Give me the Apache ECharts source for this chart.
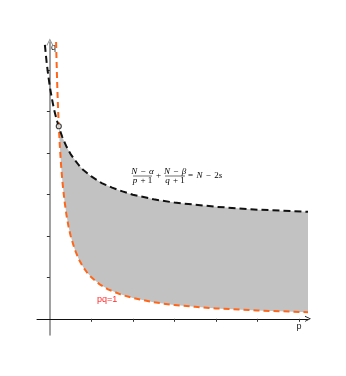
<!DOCTYPE html>
<html>
<head>
<meta charset="utf-8">
<script src="https://cdn.jsdelivr.net/npm/echarts@6/dist/echarts.min.js"></script>
<style>
  html, body { margin: 0; padding: 0; background: #fff; }
  #chart { width: 346px; height: 376px; }
</style>
</head>
<body>
<div id="chart"></div>
<script>
// ticks on both axes (no labels)
var tickValues = [1, 2, 3, 4, 5, 6];

// (N-a)/(p+1) + (N-b)/(q+1) = N-2s
var blackCurve = [
    [-0.12, 6.60], [-0.08, 6.20], [-0.04, 5.87], [0, 5.59], [0.05, 5.30],
    [0.1, 5.05], [0.15, 4.85], [0.215, 4.62], [0.3, 4.38], [0.4, 4.15],
    [0.5, 3.97], [0.6, 3.83], [0.7, 3.70], [0.8, 3.59], [1.0, 3.43],
    [1.25, 3.27], [1.5, 3.16], [1.75, 3.07], [2, 2.99], [2.5, 2.88],
    [3, 2.80], [3.5, 2.75], [4, 2.70], [5, 2.63], [6.22, 2.58]
];

// pq = 1
var orangeCurve = [
    [0.15, 6.67], [0.16, 6.25], [0.18, 5.56], [0.2, 5.0], [0.215, 4.65],
    [0.24, 4.17], [0.27, 3.70], [0.3, 3.33], [0.35, 2.86], [0.4, 2.5],
    [0.45, 2.22], [0.5, 2.0], [0.6, 1.67], [0.7, 1.43], [0.8, 1.25],
    [0.9, 1.11], [1, 1.0], [1.2, 0.83], [1.4, 0.71], [1.7, 0.59],
    [2, 0.5], [2.5, 0.4], [3, 0.33], [3.5, 0.29], [4, 0.25],
    [5, 0.2], [6.22, 0.16]
];

// where the two curves meet
var meetPoint = [[0.215, 4.64]];

var chart = echarts.init(document.getElementById('chart'));

var richStyles = {
    i: { fontFamily: 'Liberation Serif', fontStyle: 'italic', fontSize: 9, color: '#111' },
    r: { fontFamily: 'Liberation Serif', fontSize: 9, color: '#111' }
};

function richText(str, x, y, align) {
    return {
        type: 'text', x: x, y: y,
        style: { text: str, rich: richStyles, align: align || 'center', verticalAlign: 'middle' }
    };
}

var option = {
    animation: false,
    grid: { left: 37, right: 38, top: 42, bottom: 41 },
    xAxis: {
        type: 'value',
        min: -0.31, max: 6.22,
        axisLine: {
            onZero: true,
            symbol: ['none', 'path://M0,10 L5,0 L10,10 L8.6,10 L5,2.6 L1.4,10 Z'],
            symbolSize: [6, 6],
            lineStyle: { color: '#111', width: 1 }
        },
        axisTick: { show: true, customValues: tickValues, length: 3, lineStyle: { color: '#333' } },
        axisLabel: { show: false },
        splitLine: { show: false }
    },
    yAxis: {
        type: 'value',
        min: -0.39, max: 6.67,
        axisLine: {
            onZero: true,
            symbol: ['none', 'path://M0,10 L5,0 L10,10 L8.6,10 L5,2.6 L1.4,10 Z'],
            symbolSize: [7, 7],
            lineStyle: { color: '#8a8a8a', width: 1.6 }
        },
        axisTick: { show: true, customValues: tickValues, length: 3, lineStyle: { color: '#333' } },
        axisLabel: { show: false },
        splitLine: { show: false }
    },
    graphic: [
        { type: 'text', x: 51, y: 48, style: { text: 'q', font: '9px "Liberation Sans"', fill: '#222', verticalAlign: 'middle' } },
        { type: 'text', x: 299, y: 327, style: { text: 'p', font: '9px "Liberation Sans"', fill: '#222', align: 'center', verticalAlign: 'middle' } },
        { type: 'text', x: 97, y: 300, style: { text: 'pq=1', font: '9px "Liberation Sans"', fill: '#ff2a2a', verticalAlign: 'middle' } },
        richText('{i|N} {r|−} {i|α}', 142.5, 171.5),
        { type: 'line', shape: { x1: 133, y1: 176, x2: 152, y2: 176 }, style: { stroke: '#111', lineWidth: 0.6 } },
        richText('{i|p} {r|+ 1}', 142.5, 180.5),
        richText('{r|+}', 158.5, 176),
        richText('{i|N} {r|−} {i|β}', 175, 171.5),
        { type: 'line', shape: { x1: 165, y1: 176, x2: 185, y2: 176 }, style: { stroke: '#111', lineWidth: 0.6 } },
        richText('{i|q} {r|+ 1}', 175, 180.5),
        richText('{r|=} {i|N} {r|−} {r|2}{i|s}', 188, 176, 'left')
    ],
    series: [
        {
            // shaded region between the two curves
            type: 'custom',
            data: [0],
            z: 1,
            silent: true,
            renderItem: function (params, api) {
                var pts = [];
                var i;
                for (i = 0; i < blackCurve.length; i++) {
                    if (blackCurve[i][0] >= meetPoint[0][0]) pts.push(api.coord(blackCurve[i]));
                }
                for (i = orangeCurve.length - 1; i >= 0; i--) {
                    if (orangeCurve[i][0] >= meetPoint[0][0]) pts.push(api.coord(orangeCurve[i]));
                }
                return {
                    type: 'polygon',
                    shape: { points: pts },
                    style: { fill: '#c2c2c2' }
                };
            }
        },
        {
            type: 'line',
            data: orangeCurve,
            showSymbol: false,
            z: 3,
            lineStyle: { color: '#ff661a', width: 2, type: [6, 4] }
        },
        {
            type: 'line',
            data: blackCurve,
            showSymbol: false,
            z: 4,
            lineStyle: { color: '#111', width: 2, type: [7, 4] }
        },
        {
            type: 'scatter',
            data: meetPoint,
            symbol: 'circle',
            symbolSize: 5,
            z: 5,
            itemStyle: { color: '#fff', borderColor: '#111', borderWidth: 1.2 }
        }
    ]
};

chart.setOption(option);
</script>
</body>
</html>
